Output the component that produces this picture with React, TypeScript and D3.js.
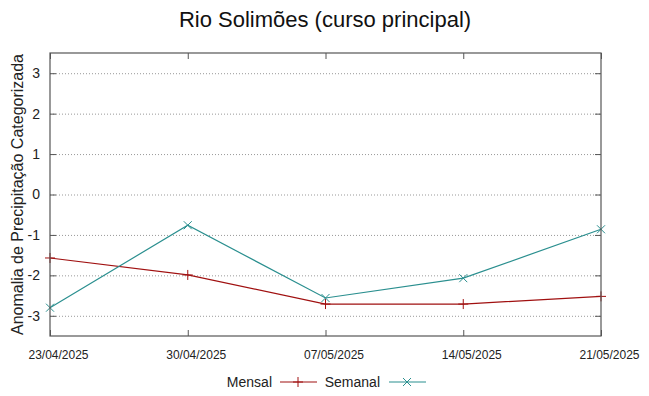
import React from 'react';
import * as d3 from "d3";

// dates of the weekly runs
const dates = ["23/04/2025", "30/04/2025", "07/05/2025", "14/05/2025", "21/05/2025"];
const mensal = [-1.57, -1.99, -2.71, -2.71, -2.52];
const semanal = [-2.80, -0.76, -2.56, -2.07, -0.86];
const yTicks = [-3, -2, -1, 0, 1, 2, 3];

const W = 649;
const H = 396;
const RED = "#a01010";
const TEAL = "#2a8f8f";
const BORDER = "#555555";

const App = () => {
    const svgRef = React.useRef<SVGSVGElement>(null);

    React.useEffect(() => {
        const parse = d3.timeParse("%d/%m/%Y");
        const xs = dates.map(d => parse(d) as Date);

        const left = 50, right = 601, top = 53, bottom = 336;

        const xScale = d3.scaleTime()
            .domain([xs[0], xs[xs.length - 1]])
            .range([left, right]);
        const yScale = d3.scaleLinear()
            .domain([-3.5, 3.5])
            .range([bottom, top]);

        const svg = d3.select(svgRef.current);
        svg.selectAll("*").remove();

        svg.append("rect")
            .attr("width", W).attr("height", H).attr("fill", "white");

        // title
        svg.append("text")
            .attr("x", 325).attr("y", 27)
            .attr("text-anchor", "middle")
            .attr("font-size", "22px")
            .attr("fill", "#111")
            .text("Rio Solimões (curso principal)");

        // grid
        svg.append("g")
            .selectAll("line")
            .data(yTicks)
            .enter()
            .append("line")
            .attr("x1", left).attr("x2", right)
            .attr("y1", d => yScale(d) + 0.5).attr("y2", d => yScale(d) + 0.5)
            .attr("stroke", "#999")
            .attr("stroke-width", 1)
            .attr("stroke-dasharray", "1,2");

        // axes (inward ticks, mirrored)
        const tickLen = 6;
        const yAxisL = d3.axisLeft(yScale).tickValues(yTicks).tickSize(-tickLen).tickPadding(10)
            .tickFormat(d => String(d));
        const yAxisR = d3.axisRight(yScale).tickValues(yTicks).tickSize(-tickLen).tickFormat(() => "");
        const xAxisB = d3.axisBottom(xScale).tickValues(xs).tickSize(-tickLen).tickPadding(14)
            .tickFormat((d, i) => dates[i]);
        const xAxisT = d3.axisTop(xScale).tickValues(xs).tickSize(-tickLen).tickFormat(() => "");

        const styleAxis = (g: any) => {
            g.select(".domain").remove();
            g.selectAll("line").attr("stroke", BORDER);
            g.selectAll("text").attr("fill", "#222").attr("font-family", "Liberation Sans, Arial, sans-serif");
        };

        svg.append("g").attr("transform", "translate(" + left + ",0)").call(yAxisL).call(styleAxis)
            .selectAll("text").attr("font-size", "14px");
        svg.append("g").attr("transform", "translate(" + right + ",0)").call(yAxisR).call(styleAxis);
        svg.append("g").attr("transform", "translate(0," + bottom + ")").call(xAxisB).call(styleAxis)
            .selectAll("text")
            .attr("font-size", "12px")
            .attr("dx", 8);
        svg.append("g").attr("transform", "translate(0," + top + ")").call(xAxisT).call(styleAxis);

        // y label
        svg.append("text")
            .attr("transform", "translate(23," + (top + bottom) / 2 + ") rotate(-90)")
            .attr("text-anchor", "middle")
            .attr("font-size", "16px")
            .attr("fill", "#222")
            .text("Anomalia de Precipitação Categorizada");

        const line = d3.line<number>()
            .x((d, i) => xScale(xs[i]))
            .y(d => yScale(d));

        const plus = (g: any, cx: number, cy: number, color: string) => {
            g.append("path")
                .attr("d", "M" + (cx - 5) + "," + cy + "H" + (cx + 5) + "M" + cx + "," + (cy - 5) + "V" + (cy + 5))
                .attr("stroke", color).attr("stroke-width", 1).attr("fill", "none");
        };
        const cross = (g: any, cx: number, cy: number, color: string) => {
            g.append("path")
                .attr("d", "M" + (cx - 4) + "," + (cy - 4) + "L" + (cx + 4) + "," + (cy + 4) +
                    "M" + (cx - 4) + "," + (cy + 4) + "L" + (cx + 4) + "," + (cy - 4))
                .attr("stroke", color).attr("stroke-width", 1).attr("fill", "none");
        };

        const series = svg.append("g");
        series.append("path")
            .datum(mensal)
            .attr("d", line)
            .attr("fill", "none")
            .attr("stroke", RED)
            .attr("stroke-width", 1.2);
        mensal.forEach((v, i) => plus(series, xScale(xs[i]), yScale(v), RED));

        series.append("path")
            .datum(semanal)
            .attr("d", line)
            .attr("fill", "none")
            .attr("stroke", TEAL)
            .attr("stroke-width", 1.2);
        semanal.forEach((v, i) => cross(series, xScale(xs[i]), yScale(v), TEAL));

        // border
        svg.append("rect")
            .attr("x", left).attr("y", top)
            .attr("width", right - left).attr("height", bottom - top)
            .attr("fill", "none")
            .attr("stroke", BORDER)
            .attr("stroke-width", 1.2);

        // legend
        const legend = svg.append("g").attr("font-size", "14px").attr("fill", "#222");
        legend.append("text").attr("x", 272).attr("y", 387).attr("text-anchor", "end").text("Mensal");
        legend.append("line").attr("x1", 280).attr("x2", 317).attr("y1", 382).attr("y2", 382)
            .attr("stroke", RED).attr("stroke-width", 1.2);
        plus(legend, 298, 382, RED);
        legend.append("text").attr("x", 380).attr("y", 387).attr("text-anchor", "end").text("Semanal");
        legend.append("line").attr("x1", 389).attr("x2", 426).attr("y1", 382).attr("y2", 382)
            .attr("stroke", TEAL).attr("stroke-width", 1.2);
        cross(legend, 407, 382, TEAL);
    }, []);

    return (
        <svg
            ref={svgRef}
            width={W}
            height={H}
            style={{position: "absolute", left: 0, top: 0, fontFamily: "Liberation Sans, Arial, sans-serif"}}>
        </svg>
    );
};

export default App;
